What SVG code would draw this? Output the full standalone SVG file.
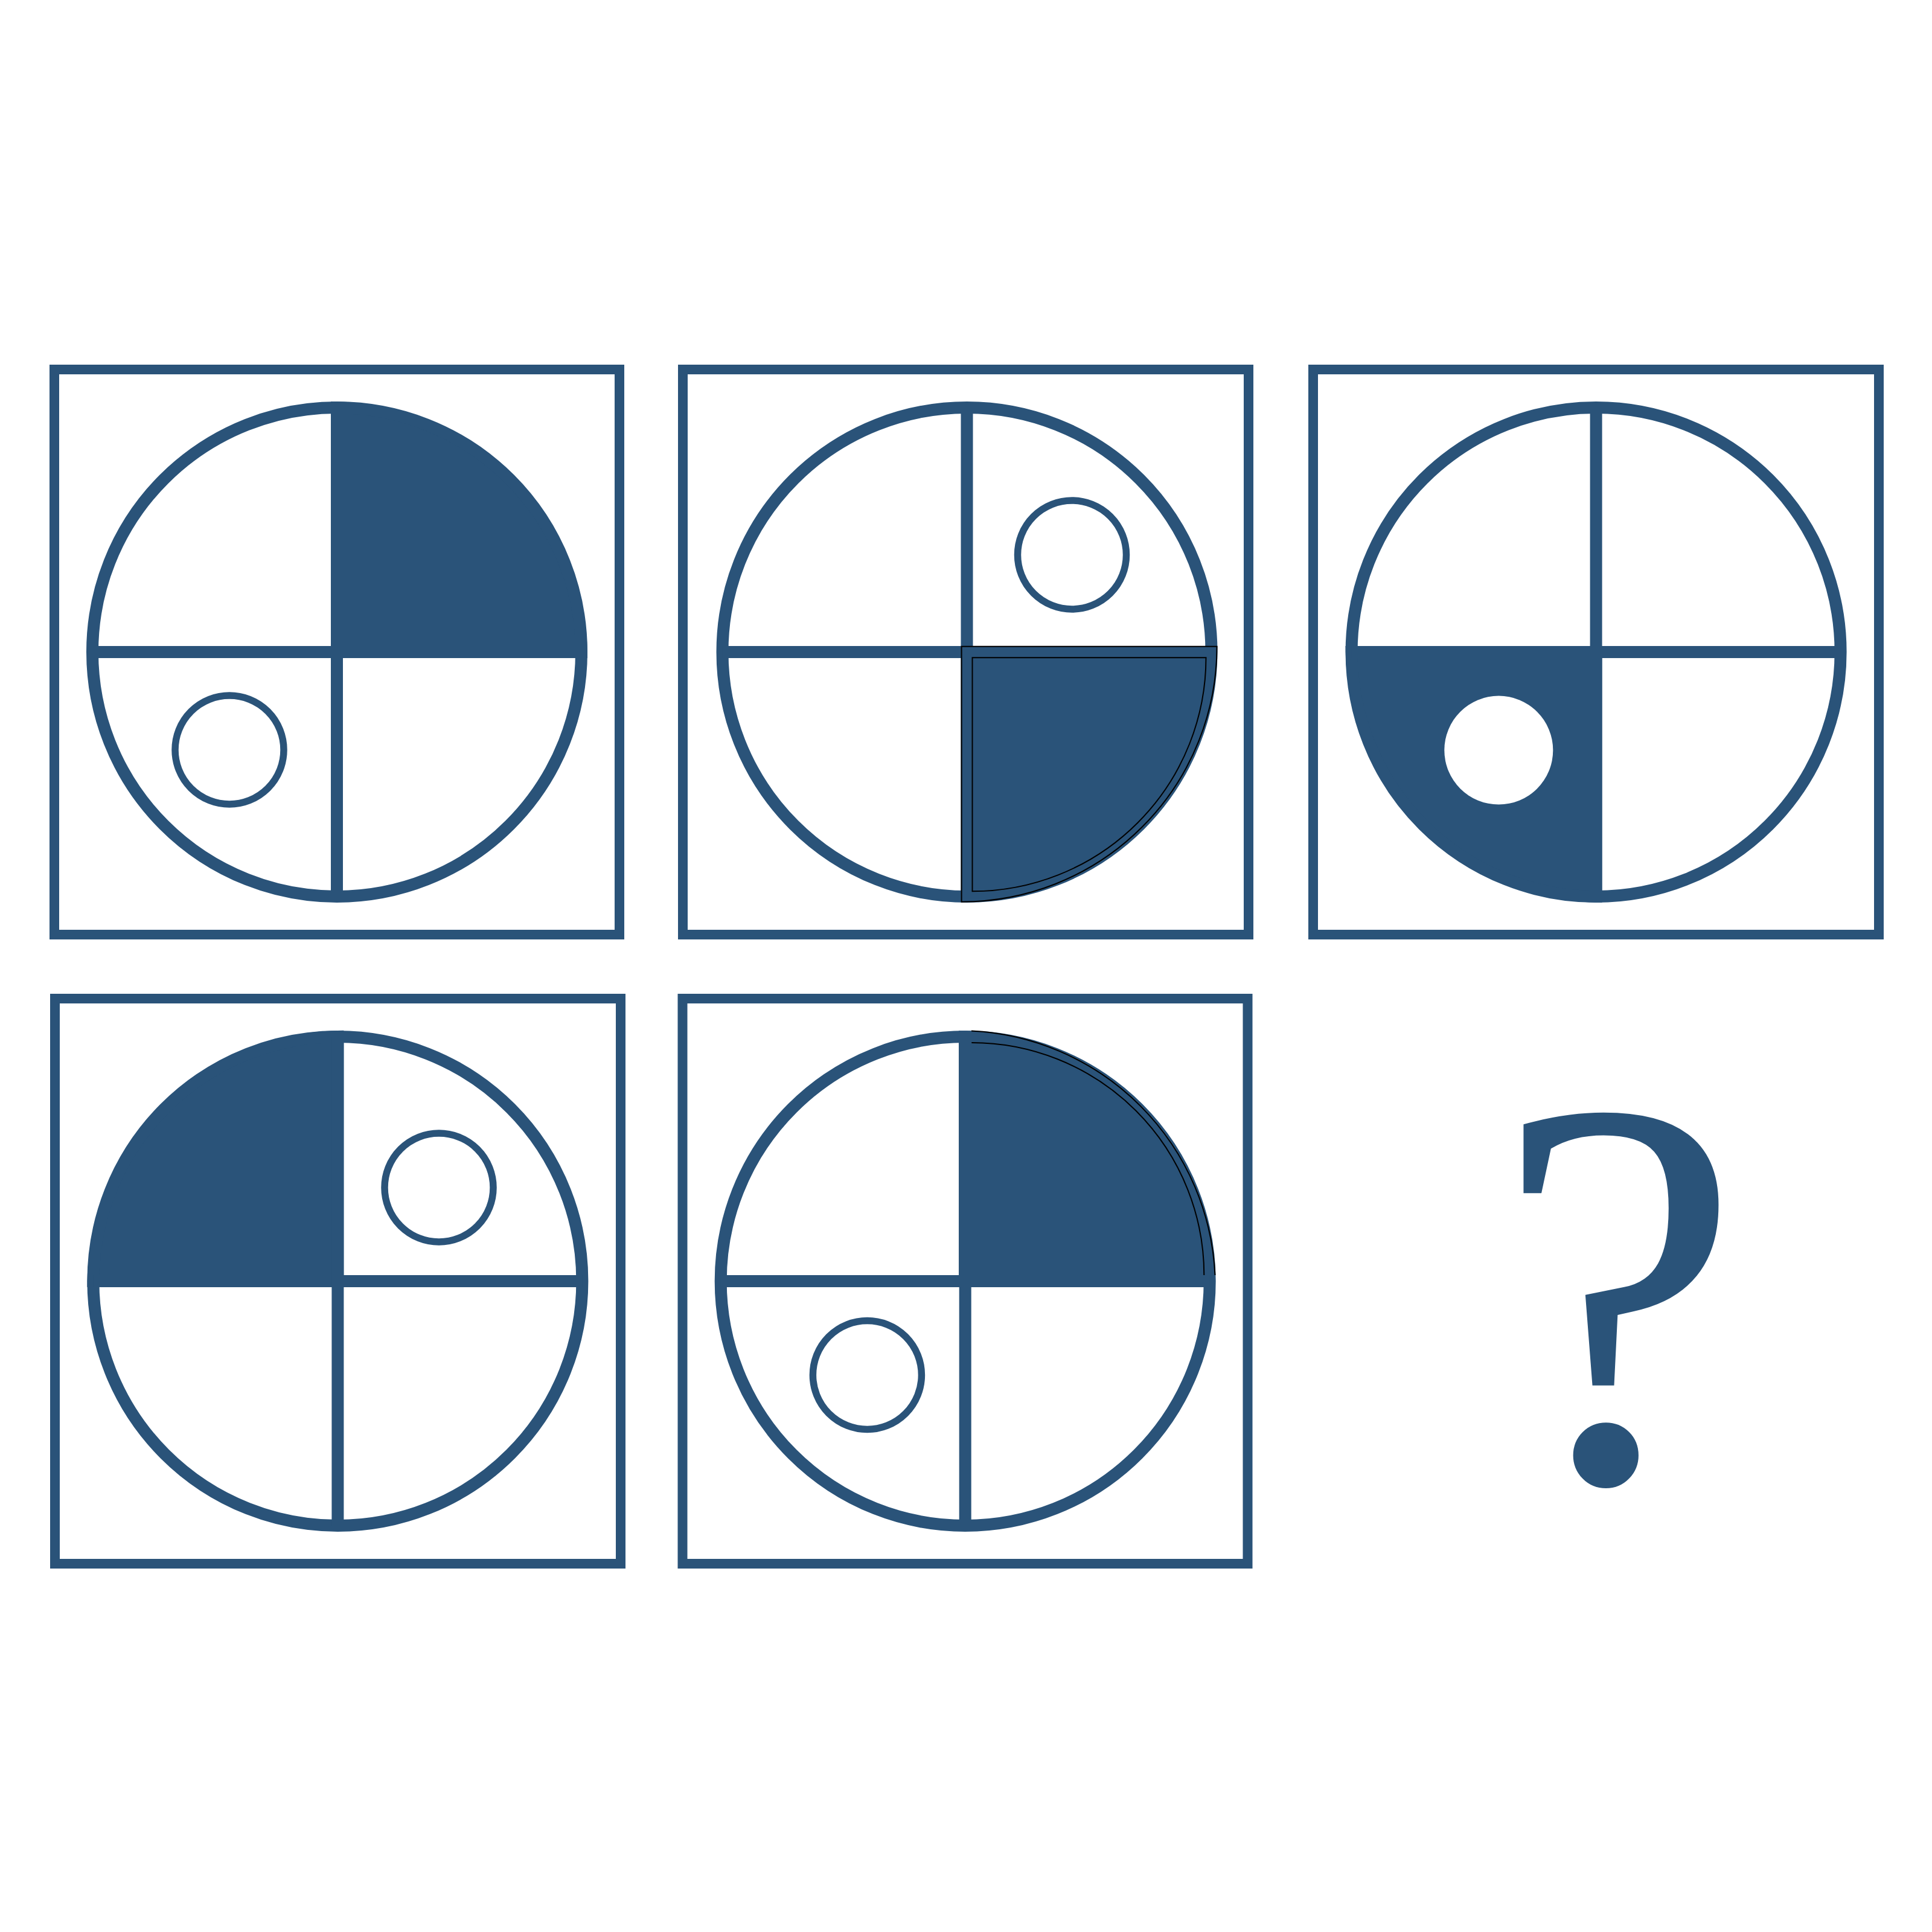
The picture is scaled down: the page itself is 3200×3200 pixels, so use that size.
<svg xmlns="http://www.w3.org/2000/svg" width="3200" height="3200" viewBox="0 0 3200 3200">
<style>
.frame{fill:none;stroke:#2a5379;stroke-width:16}
.ring{fill:none;stroke:#2a5379;stroke-width:20}
.bar{stroke:#2a5379;stroke-width:20}
.fill{fill:#2a5379}
.dot{fill:none;stroke:#2a5379;stroke-width:11.5}
.ol{fill:none;stroke:#000;stroke-width:2}
.q{font-family:"Liberation Serif",serif;fill:#2a5379}
</style>
<rect width="3200" height="3200" fill="#fff"/>
<g id="panel1">
<rect class="frame" x="90" y="612" width="936" height="936"/>
<path class="fill" d="M548,1090 L548,665 A425,425 0 0 1 973,1090 Z"/>
<circle class="ring" cx="558" cy="1080" r="405"/>
<line class="bar" x1="153" y1="1080" x2="963" y2="1080"/>
<line class="bar" x1="558" y1="675" x2="558" y2="1485"/>
<circle class="dot" cx="380" cy="1242" r="90"/>
</g>
<g id="panel2">
<rect class="frame" x="1131" y="612" width="937" height="936"/>
<circle class="ring" cx="1601.5" cy="1080" r="405"/>
<line class="bar" x1="1196.5" y1="1080" x2="2006.5" y2="1080"/>
<line class="bar" x1="1601.5" y1="675" x2="1601.5" y2="1485"/>
<path class="fill" d="M1592.6,1070.7 L2015.6,1070.7 A423,423 0 0 1 1592.6,1493.7 Z" stroke="#000" stroke-width="2"/>
<path class="ol" stroke-width="1.6" d="M1610.5,1089.3 L1997.5,1089.3 A387,387 0 0 1 1610.5,1476.3 Z"/>
<circle class="dot" cx="1775.5" cy="919" r="90"/>
</g>
<g id="panel3">
<rect class="frame" x="2175" y="612" width="937" height="936"/>
<path class="fill" d="M2653.5,1070 L2653.5,1495 A425,425 0 0 1 2228.5,1070 Z"/>
<circle class="ring" cx="2643.6" cy="1080" r="405"/>
<line class="bar" x1="2238.6" y1="1080" x2="3048.6" y2="1080"/>
<line class="bar" x1="2643.6" y1="675" x2="2643.6" y2="1485"/>
<circle cx="2482.3" cy="1242.6" r="90" fill="#fff"/>
</g>
<g id="panel4">
<rect class="frame" x="91" y="1654" width="937" height="936"/>
<path class="fill" d="M569.3,2131.8 L144.3,2131.8 A425,425 0 0 1 569.3,1706.8 Z"/>
<circle class="ring" cx="559.4" cy="2122" r="405"/>
<line class="bar" x1="154.4" y1="2122" x2="964.4" y2="2122"/>
<line class="bar" x1="559.4" y1="1717" x2="559.4" y2="2527"/>
<circle class="dot" cx="727" cy="1967" r="90"/>
</g>
<g id="panel5">
<rect class="frame" x="1130.5" y="1654" width="936" height="936"/>
<path class="fill" d="M1588,2132 L1588,1707 A425,425 0 0 1 2013,2132 Z"/>
<circle class="ring" cx="1598.7" cy="2122" r="405"/>
<line class="bar" x1="1193.7" y1="2122" x2="2003.7" y2="2122"/>
<line class="bar" x1="1598.7" y1="1717" x2="1598.7" y2="2527"/>
<path class="ol" d="M1609,1707.5 A425,425 0 0 1 2012.5,2112"/>
<path class="ol" stroke-width="1.6" d="M1609.3,1727 A385,385 0 0 1 1994.3,2112"/>
<circle class="dot" cx="1436.4" cy="2277.5" r="90"/>
</g>
<g id="question">
<text class="q" x="2680" y="2452" font-size="920" text-anchor="middle">?</text>
</g>
</svg>
